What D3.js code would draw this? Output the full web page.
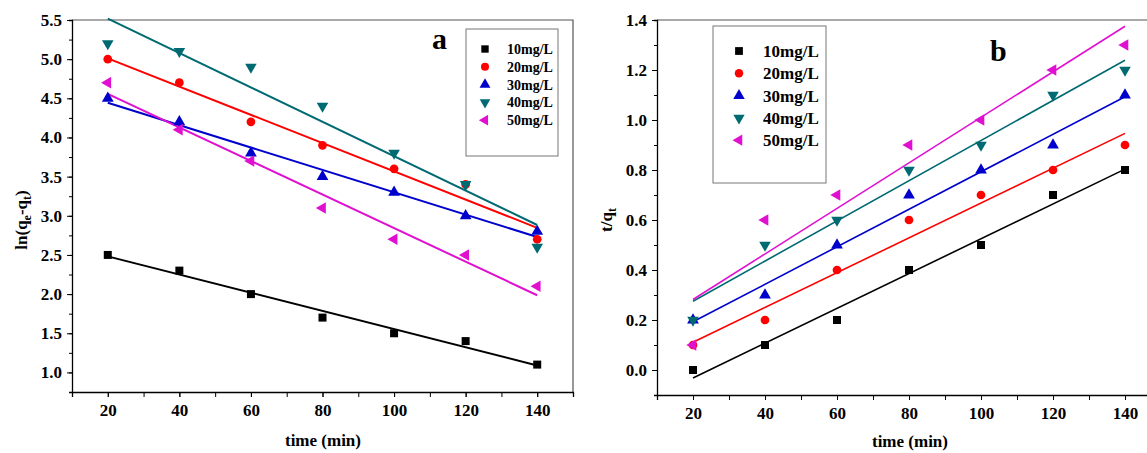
<!DOCTYPE html>
<html>
<head>
<meta charset="utf-8">
<script src="https://cdn.jsdelivr.net/npm/d3@7"></script>
<style>
  body { margin: 0; background: #fff; }
  svg { font-family: 'Liberation Serif', 'Times New Roman', serif; font-weight: bold; }
</style>
</head>
<body>
<div class="vis"></div>
<script>
// shared x values (time, min)
const times = [20, 40, 60, 80, 100, 120, 140];
const seriesNames = ['10mg/L', '20mg/L', '30mg/L', '40mg/L', '50mg/L'];

// panel a: ln(qe-qt)
const lnA10 = [2.5, 2.3, 2.0, 1.7, 1.5, 1.4, 1.1];
const lnA20 = [5.0, 4.7, 4.2, 3.9, 3.6, 3.4, 2.7];
const lnA30 = [4.5, 4.2, 3.8, 3.5, 3.3, 3.0, 2.8];
const lnA40 = [5.2, 5.1, 4.9, 4.4, 3.8, 3.4, 2.6];
const lnA50 = [4.7, 4.1, 3.7, 3.1, 2.7, 2.5, 2.1];

// panel b: t/qt
const tqB10 = [0.0, 0.1, 0.2, 0.4, 0.5, 0.7, 0.8];
const tqB20 = [0.1, 0.2, 0.4, 0.6, 0.7, 0.8, 0.9];
const tqB30 = [0.2, 0.3, 0.5, 0.7, 0.8, 0.9, 1.1];
const tqB40 = [0.2, 0.5, 0.6, 0.8, 0.9, 1.1, 1.2];
const tqB50 = [0.1, 0.6, 0.7, 0.9, 1.0, 1.2, 1.3];

const xTicks = [20, 40, 60, 80, 100, 120, 140];
const yTicksA = [1.0, 1.5, 2.0, 2.5, 3.0, 3.5, 4.0, 4.5, 5.0, 5.5];
const yTicksB = [0.0, 0.2, 0.4, 0.6, 0.8, 1.0, 1.2, 1.4];

const colors = ['#000000', '#ff0000', '#0000cc', '#006a72', '#e010d0'];
const shapes = [d3.symbolSquare, d3.symbolCircle, d3.symbolTriangle, 'down', 'left'];

const svg = d3.select('.vis').append('svg')
    .attr('width', 1147)
    .attr('height', 453);

// least squares fit, like the original's linear fit
function fit(xs, ys) {
    const mx = d3.mean(xs), my = d3.mean(ys);
    let sxy = 0, sxx = 0;
    xs.forEach((x, i) => { sxy += (x - mx) * (ys[i] - my); sxx += (x - mx) * (x - mx); });
    const b = sxy / sxx;
    return x => my + b * (x - mx);
}

function marker(g, i, x, y, k) {
    k = k || 1;
    const c = colors[i];
    const s = shapes[i];
    if (s === 'down') {
        g.append('path').attr('d', d3.symbol(d3.symbolTriangle, 58 * k)())
            .attr('transform', `translate(${x},${y}) rotate(180)`).attr('fill', c);
    } else if (s === 'left') {
        g.append('path').attr('d', d3.symbol(d3.symbolTriangle, 58 * k)())
            .attr('transform', `translate(${x},${y}) rotate(-90)`).attr('fill', c);
    } else {
        const size = s === d3.symbolSquare ? 64 : 60;
        g.append('path').attr('d', d3.symbol(s, size * k)())
            .attr('transform', `translate(${x},${y})`).attr('fill', c);
    }
}

function panel(opts) {
    const { x, y, data, yTicks, yMinor, letter, legend, lineW } = opts;
    const g = svg.append('g');
    const x0 = x.range()[0], x1 = x.range()[1];
    const y0 = y.range()[0], y1 = y.range()[1];

    // frame
    g.append('path')
        .attr('d', `M${x0},${y1}H${x1}V${y0}`)
        .attr('fill', 'none').attr('stroke', '#555').attr('stroke-width', 1.2);

    // x axis: minor every 10, labels every 20
    g.append('g')
        .attr('transform', `translate(0,${y0})`)
        .call(d3.axisBottom(x).tickValues(d3.range(10, 151, 10)).tickSize(5).tickFormat(''))
        .call(a => a.select('.domain').attr('stroke-width', 1.3));
    g.append('g')
        .attr('transform', `translate(0,${y0})`)
        .call(d3.axisBottom(x).tickValues(xTicks).tickSize(5).tickPadding(7).tickFormat(d3.format('d')))
        .call(a => a.select('.domain').remove())
        .call(a => a.selectAll('text').attr('font-size', 17).attr('font-family', 'Liberation Serif').attr('font-weight', 'bold'));

    // y axis
    g.append('g')
        .attr('transform', `translate(${x0},0)`)
        .call(d3.axisLeft(y).tickValues(yMinor).tickSize(3).tickFormat(''))
        .call(a => a.select('.domain').attr('stroke-width', 1.3));
    g.append('g')
        .attr('transform', `translate(${x0},0)`)
        .call(d3.axisLeft(y).tickValues(yTicks).tickSize(5).tickPadding(5).tickFormat(d3.format('.1f')))
        .call(a => a.select('.domain').remove())
        .call(a => a.selectAll('text').attr('font-size', 17).attr('font-family', 'Liberation Serif').attr('font-weight', 'bold'));

    // fit lines
    data.forEach((ys, i) => {
        const f = fit(times, ys);
        g.append('line')
            .attr('x1', x(times[0])).attr('y1', y(f(times[0])))
            .attr('x2', x(times[times.length - 1])).attr('y2', y(f(times[times.length - 1])))
            .attr('stroke', colors[i]).attr('stroke-width', lineW);
    });

    // points
    data.forEach((ys, i) => {
        ys.forEach((v, j) => marker(g, i, x(times[j]), y(v)));
    });

    // letter
    g.append('text').attr('x', letter.x).attr('y', letter.y)
        .attr('font-size', 30).text(letter.t);

    // legend
    const lg = g.append('g');
    lg.append('rect')
        .attr('x', legend.x).attr('y', legend.y)
        .attr('width', legend.w).attr('height', legend.h)
        .attr('fill', '#fff').attr('stroke', '#777').attr('stroke-width', 1);
    seriesNames.forEach((n, i) => {
        const yy = legend.y + legend.first + i * legend.step;
        marker(lg, i, legend.x + legend.sx, yy, legend.mk);
        lg.append('text').attr('x', legend.x + legend.tx).attr('y', yy + legend.fs * 0.35)
            .attr('font-size', legend.fs).text(n);
    });
}

// panel a
const xA = d3.scaleLinear().domain([10, 150]).range([72, 573]);
const yA = d3.scaleLinear().domain([0.75, 5.5]).range([392, 20]);
panel({
    x: xA, y: yA,
    data: [lnA10, lnA20, lnA30, lnA40, lnA50],
    yTicks: yTicksA, yMinor: d3.range(0.75, 5.51, 0.25),
    letter: { x: 432, y: 49, t: 'a' },
    legend: { x: 466, y: 29, w: 92, h: 127, first: 20, step: 17.8, sx: 19, tx: 41, fs: 14, mk: 0.85 },
    lineW: 2
});
svg.append('text')
    .attr('transform', 'translate(27,220) rotate(-90)')
    .attr('text-anchor', 'middle').attr('font-size', 17)
    .html('ln(q<tspan dy="4" font-size="12">e</tspan><tspan dy="-4">-q</tspan><tspan dy="4" font-size="12">t</tspan><tspan dy="-4">)</tspan>');
svg.append('text').attr('x', 323).attr('y', 446)
    .attr('text-anchor', 'middle').attr('font-size', 17).text('time (min)');

// panel b
const xB = d3.scaleLinear().domain([10, 150]).range([657, 1161]);
const yB = d3.scaleLinear().domain([-0.1, 1.4]).range([395, 20]);
panel({
    x: xB, y: yB,
    data: [tqB10, tqB20, tqB30, tqB40, tqB50],
    yTicks: yTicksB, yMinor: d3.range(-0.1, 1.41, 0.1),
    letter: { x: 990, y: 61, t: 'b' },
    legend: { x: 713, y: 26, w: 113, h: 157, first: 25, step: 22.3, sx: 26, tx: 50, fs: 17, mk: 0.95 },
    lineW: 1.6
});
svg.append('text')
    .attr('transform', 'translate(612,220) rotate(-90)')
    .attr('text-anchor', 'middle').attr('font-size', 17)
    .html('t/q<tspan dy="4" font-size="12">t</tspan>');
svg.append('text').attr('x', 910).attr('y', 447)
    .attr('text-anchor', 'middle').attr('font-size', 17).text('time (min)');
</script>
</body>
</html>
